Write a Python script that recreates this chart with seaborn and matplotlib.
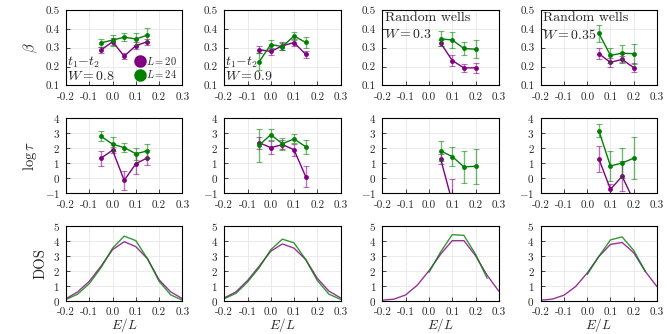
import numpy as np
import pandas as pd
import matplotlib
matplotlib.use("Agg")
import matplotlib.pyplot as plt
from matplotlib.lines import Line2D
import seaborn as sns

# energies
x_t = [-0.05, 0.0, 0.05, 0.1, 0.15]
x_rw = [0.05, 0.1, 0.15, 0.2]
x_dos = [-0.2, -0.15, -0.1, -0.05, 0.0, 0.05, 0.1, 0.15, 0.2, 0.25, 0.3]
x_dos_short = [0.0, 0.05, 0.1, 0.15, 0.2, 0.25]

# beta (row 1)
beta_a20 = [0.287, 0.332, 0.255, 0.311, 0.332]
beta_a20_err = [0.015, 0.02, 0.015, 0.02, 0.015]
beta_a24 = [0.326, 0.340, 0.356, 0.346, 0.367]
beta_a24_err = [0.02, 0.03, 0.02, 0.03, 0.038]

beta_b20 = [0.290, 0.280, 0.310, 0.327, 0.265]
beta_b20_err = [0.02, 0.02, 0.02, 0.02, 0.02]
beta_b24 = [0.225, 0.317, 0.306, 0.362, 0.328]
beta_b24_err = [0.045, 0.025, 0.02, 0.02, 0.03]

beta_c20 = [0.325, 0.232, 0.193, 0.193]
beta_c20_err = [0.015, 0.03, 0.02, 0.025]
beta_c24 = [0.347, 0.341, 0.296, 0.292]
beta_c24_err = [0.04, 0.04, 0.035, 0.048]

beta_d20 = [0.268, 0.222, 0.238, 0.194]
beta_d20_err = [0.03, 0.025, 0.02, 0.025]
beta_d24 = [0.377, 0.259, 0.271, 0.268]
beta_d24_err = [0.045, 0.04, 0.045, 0.052]

# log tau (row 2)
tau_a20 = [1.32, 1.85, -0.15, 0.95, 1.35]
tau_a20_err = [0.5, 0.2, 0.65, 0.65, 0.5]
tau_a24 = [2.78, 2.25, 2.02, 1.62, 1.8]
tau_a24_err = [0.35, 0.45, 0.3, 0.4, 0.45]

tau_b20 = [2.35, 2.02, 2.22, 1.88, 0.1]
tau_b20_err = [0.4, 0.45, 0.3, 0.4, 0.7]
tau_b24 = [2.18, 2.88, 2.28, 2.6, 2.08]
tau_b24_err = [1.1, 0.35, 0.4, 0.3, 0.45]

tau_c20 = [1.28, -1.6]
tau_c20_err = [0.35, 1.55]
tau_c24 = [1.8, 1.43, 0.75, 0.78]
tau_c24_err = [0.65, 0.6, 1.07, 1.14]

tau_d20 = [1.28, -0.75, 0.12, -1.5]
tau_d20_err = [0.85, 0.35, 1.0, 0.5]
tau_d24 = [3.15, 0.8, 1.0, 1.32]
tau_d24_err = [0.45, 1.0, 1.0, 1.4]

# DOS (row 3)
dos_a20 = [0.15, 0.6, 1.3, 2.3, 3.4, 3.93, 3.6, 2.8, 1.4, 0.6, 0.15]
dos_a24 = [0.1, 0.45, 1.15, 2.2, 3.5, 4.3, 4.0, 2.8, 1.3, 0.4, 0.05]
dos_b20 = [0.2, 0.6, 1.35, 2.3, 3.3, 3.78, 3.5, 2.75, 1.5, 0.65, 0.2]
dos_b24 = [0.15, 0.5, 1.25, 2.2, 3.4, 4.1, 3.85, 2.75, 1.35, 0.45, 0.1]
dos_c20 = [0.05, 0.12, 0.4, 1.05, 2.0, 3.1, 4.0, 4.0, 3.0, 1.7, 0.65]
dos_c24 = [1.9, 3.25, 4.4, 4.35, 3.1, 1.5]
dos_d20 = [0.05, 0.12, 0.38, 0.95, 1.85, 2.95, 3.75, 3.88, 3.2, 1.95, 0.95]
dos_d24 = [1.75, 2.95, 4.05, 4.25, 3.35, 1.95]

sns.set_style("whitegrid")
plt.rcParams.update({
    "font.family": "cmr10",
    "mathtext.fontset": "cm",
    "axes.formatter.use_mathtext": True,
    "axes.unicode_minus": True,
    "axes.edgecolor": "black",
    "axes.linewidth": 0.8,
    "grid.color": "#e8e8e8",
    "grid.linewidth": 0.6,
    "xtick.labelsize": 8,
    "ytick.labelsize": 8,
})

purple = "#800080"
green = "#008000"

fig, axes = plt.subplots(3, 4, figsize=(6.67, 3.34), dpi=100)
fig.subplots_adjust(left=0.099, right=0.985, top=0.970, bottom=0.099,
                    wspace=0.36, hspace=0.43)


def series(ax, x, y, err, color):
    df = pd.DataFrame({"x": x[:len(y)], "y": y})
    sns.lineplot(data=df, x="x", y="y", ax=ax, color=color, marker="o",
                 markersize=3.5, markeredgewidth=0, linewidth=1.0)
    ax.errorbar(x[:len(y)], y, yerr=err, fmt="none", ecolor=color,
                alpha=0.55, elinewidth=1.0, capsize=2.2, capthick=0.8)


rows = [
    [(x_t, beta_a20, beta_a20_err, beta_a24, beta_a24_err),
     (x_t, beta_b20, beta_b20_err, beta_b24, beta_b24_err),
     (x_rw, beta_c20, beta_c20_err, beta_c24, beta_c24_err),
     (x_rw, beta_d20, beta_d20_err, beta_d24, beta_d24_err)],
    [(x_t, tau_a20, tau_a20_err, tau_a24, tau_a24_err),
     (x_t, tau_b20, tau_b20_err, tau_b24, tau_b24_err),
     (x_rw, tau_c20, tau_c20_err, tau_c24, tau_c24_err),
     (x_rw, tau_d20, tau_d20_err, tau_d24, tau_d24_err)],
]

for r, row in enumerate(rows):
    for c, (x, y20, e20, y24, e24) in enumerate(row):
        ax = axes[r, c]
        series(ax, x, y20, e20, purple)
        series(ax, x, y24, e24, green)

dos = [(dos_a20, x_dos, dos_a24), (dos_b20, x_dos, dos_b24),
       (dos_c20, x_dos_short, dos_c24), (dos_d20, x_dos_short, dos_d24)]
for c, (d20, x24, d24) in enumerate(dos):
    ax = axes[2, c]
    sns.lineplot(x=x_dos, y=d20, ax=ax, color=purple, alpha=0.8, linewidth=1.0)
    sns.lineplot(x=x24, y=d24, ax=ax, color=green, alpha=0.8, linewidth=1.0)

ylims = [(0.1, 0.5), (-1, 4), (0, 5)]
yticks = [[0.1, 0.2, 0.3, 0.4, 0.5], [-1, 0, 1, 2, 3, 4], [0, 1, 2, 3, 4, 5]]
ylabels = [r"$\beta$", r"$\log\tau$", "DOS"]
for r in range(3):
    for c in range(4):
        ax = axes[r, c]
        ax.set_xlim(-0.2, 0.3)
        ax.set_ylim(*ylims[r])
        ax.set_xticks([-0.2, -0.1, 0.0, 0.1, 0.2, 0.3])
        ax.set_yticks(yticks[r])
        ax.xaxis.set_major_formatter(matplotlib.ticker.FormatStrFormatter("%.1f"))
        if r == 0:
            ax.yaxis.set_major_formatter(matplotlib.ticker.FormatStrFormatter("%.1f"))
        ax.tick_params(axis="x", direction="in", length=3, width=0.6, pad=5,
                       bottom=True, top=False)
        ax.tick_params(axis="y", direction="in", length=3, width=0.6, pad=4.5,
                       left=True, right=False)
        ax.set_xlabel("")
        ax.set_ylabel("")
        for s in ax.spines.values():
            s.set_visible(True)
    axes[r, 0].set_ylabel(ylabels[r], fontsize=10.5, labelpad=4)
for c in range(4):
    axes[2, c].set_xlabel(r"$E/L$", fontsize=9.5, labelpad=-1)

# annotations
ann_kw = dict(fontsize=10, va="top", ha="left")
axes[0, 0].text(0.01, 0.41, r"$t_1{-}t_2$", transform=axes[0, 0].transAxes, **ann_kw)
axes[0, 0].text(0.01, 0.21, r"$W=0.8$", transform=axes[0, 0].transAxes, **ann_kw)
axes[0, 1].text(0.01, 0.41, r"$t_1{-}t_2$", transform=axes[0, 1].transAxes, **ann_kw)
axes[0, 1].text(0.01, 0.21, r"$W=0.9$", transform=axes[0, 1].transAxes, **ann_kw)
axes[0, 2].text(0.02, 0.97, "Random wells", transform=axes[0, 2].transAxes, **ann_kw)
axes[0, 2].text(0.01, 0.76, r"$W=0.3$", transform=axes[0, 2].transAxes, **ann_kw)
axes[0, 3].text(0.02, 0.97, "Random wells", transform=axes[0, 3].transAxes, **ann_kw)
axes[0, 3].text(0.01, 0.76, r"$W=0.35$", transform=axes[0, 3].transAxes, **ann_kw)

handles = [Line2D([], [], color=purple, marker="o", linestyle="none", markersize=8),
           Line2D([], [], color=green, marker="o", linestyle="none", markersize=8)]
axes[0, 0].legend(handles, [r"$L=20$", r"$L=24$"], loc="lower right", frameon=False,
                  fontsize=7.5, handletextpad=0.0, handlelength=1.2,
                  labelspacing=0.1, borderaxespad=0.3, borderpad=0.2)

fig.savefig("out.png", dpi=100)
